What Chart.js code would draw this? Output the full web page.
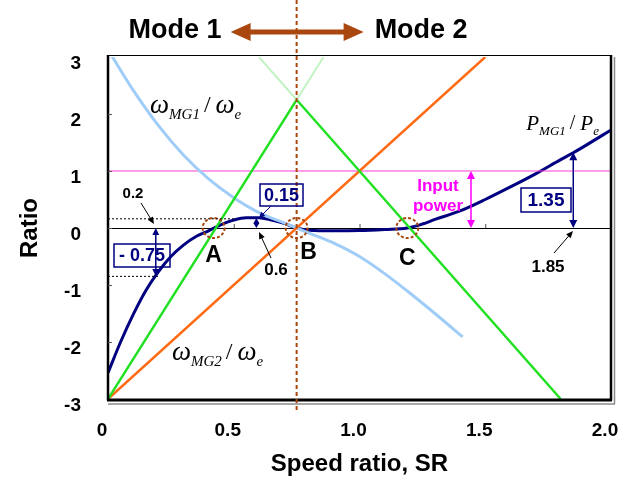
<!DOCTYPE html>
<html>
<head>
<meta charset="utf-8">
<script src="https://cdn.jsdelivr.net/npm/chart.js@4.4.1/dist/chart.umd.min.js"></script>
<style>
  html, body { margin: 0; padding: 0; background: #fff; }
  canvas { display: block; }
</style>
</head>
<body>
<canvas id="chart" width="624" height="491"></canvas>
<script>
// values
const xTicks = [0, 0.5, 1.0, 1.5, 2.0];
const yTicks = [-3, -2, -1, 0, 1, 2, 3];

const greenSR = [0, 0.75, 1.8];
const greenRatio = [-3, 2.25, -3];
const ghostSR = [0.6, 0.75, 0.857];
const ghostRatio = [3, 2.25, 3];

const mg2SR = [0, 1.5];
const mg2Ratio = [-3, 3];

const mg1SR = [0.015, 0.1, 0.2, 0.3, 0.4, 0.5, 0.6, 0.7, 0.75, 0.8, 0.9, 1.0, 1.1, 1.2, 1.3, 1.41];
const mg1Ratio = [3.02, 2.42, 1.8, 1.28, 0.86, 0.53, 0.27, 0.09, 0.0, -0.09, -0.27, -0.5, -0.8, -1.14, -1.5, -1.91];

const powerSR = [0, 0.05, 0.1, 0.15, 0.2, 0.25, 0.3, 0.35, 0.4, 0.45, 0.5, 0.55, 0.6, 0.65, 0.7, 0.75, 0.8, 0.9, 1.0, 1.1, 1.19, 1.25, 1.3, 1.4, 1.5, 1.6, 1.7, 1.8, 1.85, 1.9, 2.0];
const powerRatio = [-2.54, -2.0, -1.52, -1.1, -0.77, -0.5, -0.3, -0.15, -0.05, 0.06, 0.14, 0.18, 0.18, 0.14, 0.08, 0, -0.04, -0.05, -0.045, -0.025, 0, 0.07, 0.15, 0.3, 0.5, 0.72, 0.95, 1.2, 1.32, 1.45, 1.72];

const inputSR = [0, 2];
const inputRatio = [1, 1];

const modeSR = 0.75;
const nodeSR = [0.42, 0.75, 1.19];
const nodeNames = ["A", "B", "C"];

const SANS = "'Liberation Sans', Arial, sans-serif";
const SERIF = "'Liberation Serif', 'Times New Roman', serif";
const NAVY = "#000080";
const BROWN = "#a9470f";

function pts(xs, ys) {
  return xs.map((x, i) => ({ x, y: ys[i] }));
}

function line(label, xs, ys, color, width, extra) {
  return Object.assign({
    label,
    data: pts(xs, ys),
    borderColor: color,
    borderWidth: width,
    pointRadius: 0,
    fill: false
  }, extra || {});
}

function head(ctx, x1, y1, x2, y2, len, half) {
  const a = Math.atan2(y2 - y1, x2 - x1);
  const c = Math.cos(a), s = Math.sin(a);
  ctx.beginPath();
  ctx.moveTo(x2, y2);
  ctx.lineTo(x2 - len * c + half * s, y2 - len * s - half * c);
  ctx.lineTo(x2 - len * c - half * s, y2 - len * s + half * c);
  ctx.closePath();
  ctx.fill();
}

function arrow(ctx, x1, y1, x2, y2, color, width, len, half, both) {
  const a = Math.atan2(y2 - y1, x2 - x1);
  const c = Math.cos(a), s = Math.sin(a);
  const cut = len * 0.6;
  ctx.save();
  ctx.strokeStyle = color;
  ctx.fillStyle = color;
  ctx.lineWidth = width;
  ctx.beginPath();
  ctx.moveTo(both ? x1 + cut * c : x1, both ? y1 + cut * s : y1);
  ctx.lineTo(x2 - cut * c, y2 - cut * s);
  ctx.stroke();
  head(ctx, x1, y1, x2, y2, len, half);
  if (both) head(ctx, x2, y2, x1, y1, len, half);
  ctx.restore();
}

function label(ctx, str, x, y, font, color, align) {
  ctx.save();
  ctx.font = font;
  ctx.fillStyle = color;
  ctx.textAlign = align || "center";
  ctx.textBaseline = "middle";
  ctx.fillText(str, x, y);
  ctx.restore();
}

function box(ctx, str, x, y, w, h, font) {
  ctx.save();
  ctx.strokeStyle = NAVY;
  ctx.lineWidth = 1.5;
  ctx.strokeRect(x, y, w, h);
  ctx.restore();
  label(ctx, str, x + w / 2, y + h / 2 + 1, font, NAVY);
}

// main letter + subscript, one after another
function subText(ctx, x, y, parts) {
  ctx.save();
  ctx.fillStyle = "#000";
  ctx.textAlign = "left";
  ctx.textBaseline = "alphabetic";
  let cx = x;
  parts.forEach(([s, font, dy, gap]) => {
    ctx.font = font;
    ctx.fillText(s, cx, y + dy);
    cx += ctx.measureText(s).width + (gap || 0);
  });
  ctx.restore();
}

const annotations = {
  id: "annotations",
  afterDatasetsDraw(chart) {
    const { ctx, chartArea: ca } = chart;
    const xs = chart.scales.x, ys = chart.scales.y;
    const px = (v) => xs.getPixelForValue(v);
    const py = (v) => ys.getPixelForValue(v);

    // frame
    ctx.save();
    ctx.strokeStyle = "#000";
    ctx.lineWidth = 1;
    ctx.beginPath();
    ctx.moveTo(ca.left, ca.top - 1.5); ctx.lineTo(ca.right, ca.top - 1.5);
    ctx.stroke();
    ctx.lineWidth = 2.5;
    ctx.beginPath();
    ctx.moveTo(ca.left, ca.top - 2); ctx.lineTo(ca.left, ca.bottom + 1.5);
    ctx.moveTo(ca.right, ca.top - 2); ctx.lineTo(ca.right, ca.bottom + 1.5);
    ctx.stroke();
    ctx.lineWidth = 3;
    ctx.beginPath();
    ctx.moveTo(ca.left - 1, ca.bottom + 1); ctx.lineTo(ca.right + 1, ca.bottom + 1);
    ctx.stroke();
    ctx.strokeStyle = "#8a8a8a";
    ctx.lineWidth = 1.5;
    ctx.beginPath();
    ctx.moveTo(ca.left, ca.bottom + 5); ctx.lineTo(ca.right + 4, ca.bottom + 5);
    ctx.moveTo(ca.right + 3.5, ca.top); ctx.lineTo(ca.right + 3.5, ca.bottom + 5);
    ctx.stroke();

    // small ticks on zero line and inside left border
    ctx.strokeStyle = "#555";
    ctx.lineWidth = 1;
    ctx.beginPath();
    xTicks.slice(1, -1).forEach((v) => {
      ctx.moveTo(px(v) + 0.5, py(0)); ctx.lineTo(px(v) + 0.5, py(0) - 4);
    });
    yTicks.slice(1, -1).forEach((v) => {
      ctx.moveTo(ca.left, py(v) + 0.5); ctx.lineTo(ca.left + 4, py(v) + 0.5);
    });
    ctx.stroke();
    ctx.restore();

    // mode boundary
    const mx = px(modeSR);
    ctx.save();
    ctx.strokeStyle = BROWN;
    ctx.lineWidth = 2;
    ctx.setLineDash([4, 3]);
    ctx.beginPath();
    ctx.moveTo(mx, 0); ctx.lineTo(mx, ca.bottom + 12);
    ctx.stroke();
    ctx.restore();
    arrow(ctx, mx - 66, 32, mx + 67, 32, BROWN, 5, 20, 9, true);
    label(ctx, "Mode 1", mx - 75, 31, "bold 27px " + SANS, "#000", "right");
    label(ctx, "Mode 2", mx + 78, 31, "bold 27px " + SANS, "#000", "left");

    // node circles and letters
    ctx.save();
    ctx.strokeStyle = BROWN;
    ctx.lineWidth = 2;
    ctx.setLineDash([3, 2]);
    nodeSR.forEach((v) => {
      ctx.beginPath();
      ctx.ellipse(px(v), py(0), 11, 10, 0, 0, Math.PI * 2);
      ctx.stroke();
    });
    ctx.restore();
    const letterDx = [0, 12, 0];
    const letterDy = [28, 25, 31];
    nodeSR.forEach((v, i) => {
      label(ctx, nodeNames[i], px(v) + letterDx[i], py(0) + letterDy[i], "bold 23px " + SANS, "#000");
    });

    // curve names
    const big = "italic 27px " + SERIF, small = "italic 15px " + SERIF, slash = "24px " + SERIF;
    subText(ctx, px(0.167), py(2.02), [["\u03c9", big, 0], ["MG1", small, 6, 4], ["/", slash, -1, 5], ["\u03c9", big, 0], ["e", small, 6]]);
    subText(ctx, px(0.254), py(-2.32), [["\u03c9", big, 0], ["MG2", small, 6, 4], ["/", slash, -1, 5], ["\u03c9", big, 0], ["e", small, 6]]);
    subText(ctx, px(1.663), py(1.72), [["P", "italic 21px " + SERIF, 0], ["MG1", "italic 13px " + SERIF, 5, 4], ["/", "20px " + SERIF, -1, 5], ["P", "italic 21px " + SERIF, 0], ["e", "italic 13px " + SERIF, 5]]);

    // -0.75 at SR 0.2
    ctx.save();
    ctx.strokeStyle = "#000";
    ctx.lineWidth = 1;
    ctx.setLineDash([2, 2]);
    ctx.beginPath();
    ctx.moveTo(ca.left, py(0.17) + 0.5); ctx.lineTo(px(0.5), py(0.17) + 0.5);
    ctx.moveTo(ca.left, py(-0.84) + 0.5); ctx.lineTo(px(0.2), py(-0.84) + 0.5);
    ctx.stroke();
    ctx.restore();
    arrow(ctx, px(0.19), py(0), px(0.19), py(-0.84), NAVY, 1.5, 7, 3.5, true);
    box(ctx, "- 0.75", 114, 244, 56, 23, "bold 18px " + SANS);
    label(ctx, "0.2", 133, 194, "bold 15px " + SANS, "#000");
    arrow(ctx, 141, 203, 154, 224, "#000", 1, 7, 3);

    // 0.15 peak at SR 0.6
    arrow(ctx, px(0.59), py(0), px(0.59), py(0.17), NAVY, 1.5, 5, 3, true);
    box(ctx, "0.15", 260, 184, 43, 22, "bold 18px " + SANS);
    arrow(ctx, 271, 206, 259, 218, NAVY, 1, 6, 3);
    label(ctx, "0.6", 276, 270, "bold 17px " + SANS, "#000");
    arrow(ctx, 271, 258, 259, 232, "#000", 1, 7, 3);

    // input power
    arrow(ctx, 471, py(1), 471, py(0), "#ff00ff", 1.5, 8, 4, true);
    label(ctx, "Input", 438, 186, "bold 17px " + SANS, "#ff00ff");
    label(ctx, "power", 438, 206, "bold 17px " + SANS, "#ff00ff");

    // 1.35 at SR 1.85
    arrow(ctx, px(1.85), py(0), px(1.85), py(1.33), NAVY, 1.5, 8, 4, true);
    box(ctx, "1.35", 521, 188, 50, 24, "bold 19px " + SANS);
    label(ctx, "1.85", 548, 267, "bold 17px " + SANS, "#000");
    arrow(ctx, 554, 253, 573, 231, "#000", 1, 7, 3);
  }
};

new Chart(document.getElementById("chart"), {
  type: "line",
  data: {
    datasets: [
      line("ghost", ghostSR, ghostRatio, "#c2f3c2", 2),
      line("green", greenSR, greenRatio, "#22e022", 2.5),
      line("wMG2", mg2SR, mg2Ratio, "#ff6a13", 2.5),
      line("wMG1", mg1SR, mg1Ratio, "#9fcdf8", 3, { cubicInterpolationMode: "monotone" }),
      line("input", inputSR, inputRatio, "#ff3fd8", 1.2),
      line("PMG1", powerSR, powerRatio, NAVY, 3, { cubicInterpolationMode: "monotone" })
    ]
  },
  options: {
    responsive: false,
    animation: false,
    devicePixelRatio: 1,
    layout: { padding: { top: 57, right: 13, left: 0, bottom: 0 } },
    plugins: {
      legend: { display: false },
      tooltip: { enabled: false }
    },
    scales: {
      x: {
        type: "linear",
        min: 0,
        max: 2,
        afterFit: (s) => { s.height = 92; s.paddingLeft = 0; s.paddingRight = 0; },
        afterBuildTicks: (s) => { s.ticks = xTicks.map((v) => ({ value: v })); },
        grid: { display: false, drawTicks: false },
        border: { display: false },
        ticks: {
          padding: 20,
          labelOffset: -6,
          color: "#000",
          font: { family: SANS, weight: "bold", size: 19 },
          callback: (v) => (v === 0 ? "0" : v.toFixed(1))
        },
        title: {
          display: true,
          text: "Speed ratio, SR",
          color: "#000",
          padding: { top: 0, bottom: 12 },
          font: { family: SANS, weight: "bold", size: 24 }
        }
      },
      y: {
        min: -3,
        max: 3,
        afterFit: (s) => { s.width = 108; s.paddingTop = 0; s.paddingBottom = 0; },
        afterBuildTicks: (s) => { s.ticks = yTicks.map((v) => ({ value: v })); },
        grid: {
          drawTicks: false,
          color: (c) => (c.tick && c.tick.value === 0 ? "#000" : "rgba(0,0,0,0)"),
          lineWidth: 1
        },
        border: { display: false },
        ticks: {
          padding: 27,
          labelOffset: 7,
          color: "#000",
          font: { family: SANS, weight: "bold", size: 19 }
        },
        title: {
          display: true,
          text: "Ratio",
          color: "#000",
          padding: { top: 16, bottom: 0 },
          font: { family: SANS, weight: "bold", size: 24 }
        }
      }
    }
  },
  plugins: [annotations]
});
</script>
</body>
</html>
